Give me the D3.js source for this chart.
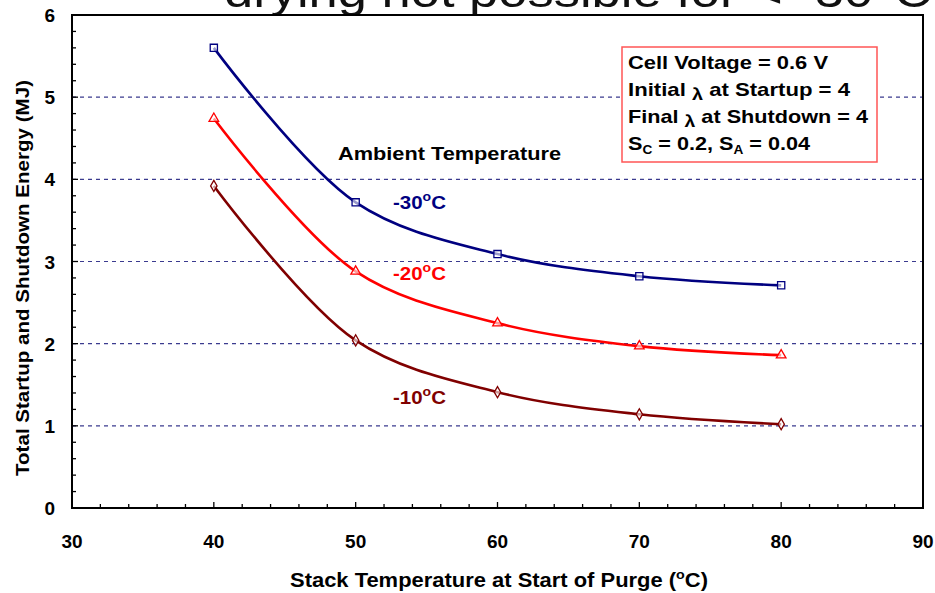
<!DOCTYPE html>
<html>
<head>
<meta charset="utf-8">
<script src="https://cdn.jsdelivr.net/npm/d3@7"></script>
<style>
  html, body { margin: 0; padding: 0; background: #fff; }
  svg { display: block; font-family: Arial, "Liberation Sans", sans-serif; }
</style>
</head>
<body>
<svg id="chart" width="935" height="593"></svg>
<script>
// Purge stack temperature (°C) at which each point was evaluated
const stackTemps = [40, 50, 60, 70, 80];

// Total startup + shutdown energy (MJ) per ambient temperature
const energyMinus30 = [5.60, 3.72, 3.09, 2.82, 2.71];
const energyMinus20 = [4.74, 2.88, 2.25, 1.97, 1.86];
const energyMinus10 = [3.92, 2.04, 1.41, 1.14, 1.02];

const seriesNames = ["-30", "-20", "-10"];
const xTicks = [30, 40, 50, 60, 70, 80, 90];
const yTicks = [0, 1, 2, 3, 4, 5, 6];
const gridValues = [1, 2, 3, 4, 5];

const series = [
  { name: seriesNames[0], values: energyMinus30, color: "#000080", marker: "square",   labelY: 3.73 },
  { name: seriesNames[1], values: energyMinus20, color: "#ff0000", marker: "triangle", labelY: 2.86 },
  { name: seriesNames[2], values: energyMinus10, color: "#800000", marker: "diamond",  labelY: 1.35 }
];

const svg = d3.select("#chart");
const plot = { left: 72, right: 923, top: 15, bottom: 508 };

const x = d3.scaleLinear().domain([30, 90]).range([plot.left, plot.right]);
const y = d3.scaleLinear().domain([0, 6]).range([plot.bottom, plot.top]);

// Heading above the plot, its upper half clipped by the page edge
svg.append("text")
  .attr("x", 224).attr("y", 7)
  .attr("font-size", 44)
  .attr("textLength", 708).attr("lengthAdjust", "spacingAndGlyphs")
  .attr("fill", "#111")
  .text("drying not possible for < -30°C");

// Dashed horizontal gridlines
svg.append("g").selectAll("line").data(gridValues).join("line")
  .attr("x1", plot.left).attr("x2", plot.right)
  .attr("y1", d => y(d)).attr("y2", d => y(d))
  .attr("stroke", "#3b3b8f").attr("stroke-width", 1.2)
  .attr("stroke-dasharray", "4,4");

// Plot frame
svg.append("rect")
  .attr("x", plot.left).attr("y", plot.top)
  .attr("width", plot.right - plot.left).attr("height", plot.bottom - plot.top)
  .attr("fill", "none").attr("stroke", "#000").attr("stroke-width", 2);

// Inward tick marks: minor every 2 °C / 0.2 MJ, major every 10 °C / 1 MJ
const xMinor = d3.range(30, 90.001, 2);
svg.append("g").selectAll("line").data(xMinor).join("line")
  .attr("x1", d => x(d)).attr("x2", d => x(d))
  .attr("y1", plot.bottom).attr("y2", d => plot.bottom - (d % 10 === 0 ? 6 : 4))
  .attr("stroke", "#000").attr("stroke-width", 1.3);

const yMinor = d3.range(0, 6.001, 0.2);
svg.append("g").selectAll("line").data(yMinor).join("line")
  .attr("x1", plot.left).attr("x2", d => plot.left + (Math.abs(d - Math.round(d)) < 1e-6 ? 6 : 4))
  .attr("y1", d => y(d)).attr("y2", d => y(d))
  .attr("stroke", "#000").attr("stroke-width", 1.3);

// Tick labels
svg.append("g").selectAll("text").data(xTicks).join("text")
  .attr("x", d => x(d)).attr("y", 548)
  .attr("text-anchor", "middle").attr("font-size", 19).attr("font-weight", "bold")
  .text(d => d);

svg.append("g").selectAll("text").data(yTicks).join("text")
  .attr("x", 55).attr("y", d => y(d) + 7)
  .attr("text-anchor", "end").attr("font-size", 19).attr("font-weight", "bold")
  .text(d => d);

// Axis titles
const xTitle = svg.append("text")
  .attr("x", 499).attr("y", 587)
  .attr("text-anchor", "middle").attr("font-size", 20).attr("font-weight", "bold")
  .attr("textLength", 418).attr("lengthAdjust", "spacingAndGlyphs");
xTitle.append("tspan").text("Stack Temperature at Start of Purge (");
xTitle.append("tspan").attr("font-size", 13).attr("dy", -8).text("o");
xTitle.append("tspan").attr("dy", 8).text("C)");

svg.append("text")
  .attr("transform", "translate(29,278) rotate(-90)")
  .attr("text-anchor", "middle").attr("font-size", 19).attr("font-weight", "bold")
  .attr("textLength", 396).attr("lengthAdjust", "spacingAndGlyphs")
  .text("Total Startup and Shutdown Energy (MJ)");

// Smoothed curves
const line = d3.line()
  .x((d, i) => x(stackTemps[i]))
  .y(d => y(d))
  .curve(d3.curveCatmullRom.alpha(0.5));

const symbolFor = {
  square: d3.symbol().type(d3.symbolSquare).size(52),
  triangle: d3.symbol().type(d3.symbolTriangle).size(40),
  diamond: d3.symbol().type(d3.symbolDiamond).size(36)
};

series.forEach(s => {
  svg.append("path")
    .datum(s.values)
    .attr("d", line)
    .attr("fill", "none")
    .attr("stroke", s.color).attr("stroke-width", 2.6);

  svg.append("g").selectAll("path").data(s.values).join("path")
    .attr("transform", (d, i) => `translate(${x(stackTemps[i])},${y(d)})`)
    .attr("d", symbolFor[s.marker]())
    .attr("fill", "#fff").attr("fill-opacity", 0.6)
    .attr("stroke", s.color).attr("stroke-width", 1.3);

  const lbl = svg.append("text")
    .attr("x", 393).attr("y", y(s.labelY) + 7)
    .attr("font-size", 19).attr("font-weight", "bold").attr("fill", s.color)
    .attr("textLength", 53).attr("lengthAdjust", "spacingAndGlyphs");
  lbl.append("tspan").text(s.name);
  lbl.append("tspan").attr("font-size", 13).attr("dy", -8).text("o");
  lbl.append("tspan").attr("dy", 8).text("C");
});

svg.append("text")
  .attr("x", 338).attr("y", 160)
  .attr("font-size", 19).attr("font-weight", "bold")
  .attr("textLength", 223).attr("lengthAdjust", "spacingAndGlyphs")
  .text("Ambient Temperature");

// Operating-conditions box
svg.append("rect")
  .attr("x", 622).attr("y", 47).attr("width", 255).attr("height", 115)
  .attr("fill", "#fff").attr("stroke", "#ff5555").attr("stroke-width", 1.5);

const boxLeft = 628;
const boxText = (yPos, len) => svg.append("text")
  .attr("x", boxLeft).attr("y", yPos)
  .attr("font-size", 19).attr("font-weight", "bold")
  .attr("textLength", len).attr("lengthAdjust", "spacingAndGlyphs");

boxText(69, 200).text("Cell Voltage = 0.6 V");

const t2 = boxText(96, 222);
t2.append("tspan").text("Initial ");
t2.append("tspan").attr("font-size", 17).attr("dy", 4).text("λ");
t2.append("tspan").attr("dy", -4).text(" at Startup = 4");

const t3 = boxText(123, 240);
t3.append("tspan").text("Final ");
t3.append("tspan").attr("font-size", 17).attr("dy", 4).text("λ");
t3.append("tspan").attr("dy", -4).text(" at Shutdown = 4");

const t4 = boxText(150, 182);
t4.append("tspan").text("S");
t4.append("tspan").attr("font-size", 12).attr("dy", 4).text("C");
t4.append("tspan").attr("dy", -4).text(" = 0.2, S");
t4.append("tspan").attr("font-size", 12).attr("dy", 4).text("A");
t4.append("tspan").attr("dy", -4).text(" = 0.04");
</script>
</body>
</html>
